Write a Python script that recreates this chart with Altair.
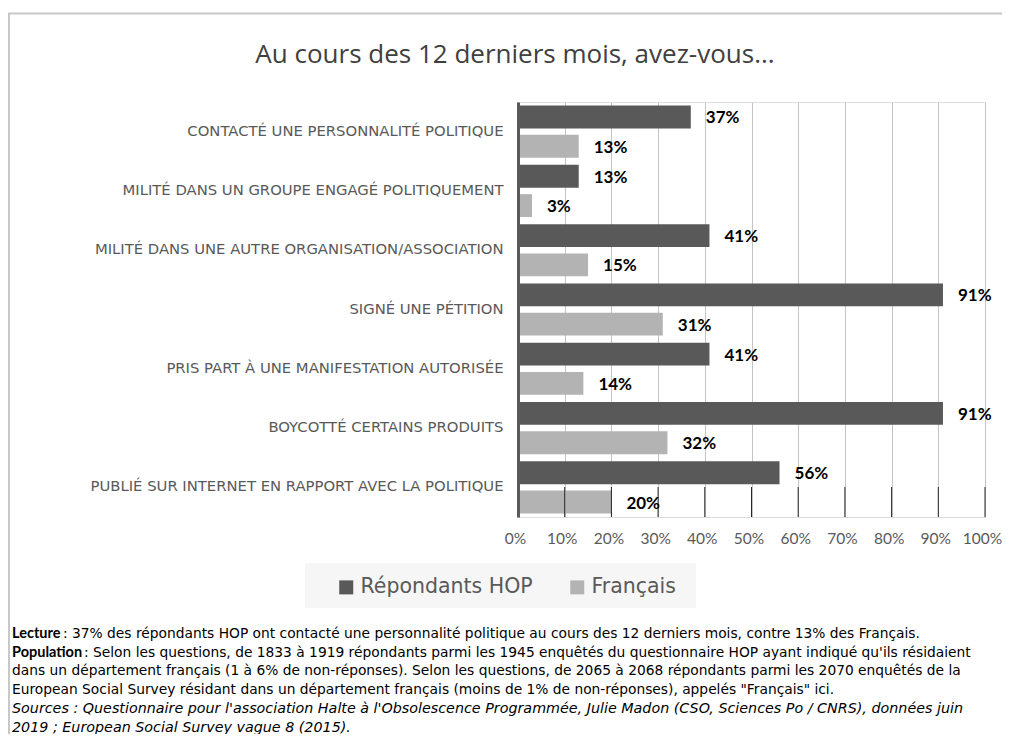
import altair as alt
import pandas as pd

# ---------------- data ----------------
categories = [
    "CONTACTÉ UNE PERSONNALITÉ POLITIQUE",
    "MILITÉ DANS UN GROUPE ENGAGÉ POLITIQUEMENT",
    "MILITÉ DANS UNE AUTRE ORGANISATION/ASSOCIATION",
    "SIGNÉ UNE PÉTITION",
    "PRIS PART À UNE MANIFESTATION AUTORISÉE",
    "BOYCOTTÉ CERTAINS PRODUITS",
    "PUBLIÉ SUR INTERNET EN RAPPORT AVEC LA POLITIQUE",
]
hop_values = [37, 13, 41, 91, 41, 91, 56]
fr_values = [13, 3, 15, 31, 14, 32, 20]
series = ["Répondants HOP", "Français"]
colors = ["#595959", "#b3b3b3"]
x_ticks = [0, 0.1, 0.2, 0.3, 0.4, 0.5, 0.6, 0.7, 0.8, 0.9, 1.0]

title_text = "Au cours des 12 derniers mois, avez-vous..."
note_lines = [
    [("Lecture", "bold", "normal"),
     (" : 37% des répondants HOP ont contacté une personnalité politique au cours des 12 derniers mois, contre 13% des Français.", "normal", "normal")],
    [("Population", "bold", "normal"),
     (" : Selon les questions, de 1833 à 1919 répondants parmi les 1945 enquêtés du questionnaire HOP ayant indiqué qu'ils résidaient", "normal", "normal")],
    [("dans un département français (1 à 6% de non-réponses). Selon les questions, de 2065 à 2068 répondants parmi les 2070 enquêtés de la", "normal", "normal")],
    [("European Social Survey résidant dans un département français (moins de 1% de non-réponses), appelés \"Français\" ici.", "normal", "normal")],
    [("Sources : Questionnaire pour l'association Halte à l'Obsolescence Programmée, Julie Madon (CSO, Sciences Po / CNRS), données juin", "normal", "italic")],
    [("2019 ; European Social Survey vague 8 (2015).", "normal", "italic")],
]
bold_widths = {"Lecture": 51, "Population": 72}

FONT_T = "Open Sans"
FONT = "DejaVu Sans"
FONT2 = "Lato"
W, H = 467, 415

rows = []
for c, h, f in zip(categories, hop_values, fr_values):
    rows.append({"cat": c, "serie": series[0], "val": h / 100, "lab": f"{h}%"})
    rows.append({"cat": c, "serie": series[1], "val": f / 100, "lab": f"{f}%"})
df = pd.DataFrame(rows)

# ---------------- encodings ----------------
y_enc = alt.Y(
    "cat:N", sort=categories,
    scale=alt.Scale(paddingInner=0.12, paddingOuter=0.06),
    axis=alt.Axis(title=None, labelFont=FONT, labelFontSize=14.8, labelColor="#595959",
                  labelPadding=15, ticks=False, domainColor="#595959", domainWidth=3,
                  labelLimit=600, zindex=1),
)
yoff_enc = alt.YOffset("serie:N", sort=series, scale=alt.Scale(paddingInner=0.22))
x_enc = alt.X(
    "val:Q", scale=alt.Scale(domain=[0, 1], nice=False),
    axis=alt.Axis(title=None, format=".0%", values=x_ticks, grid=True, gridColor="#c4c4c4",
                  gridWidth=1, domain=False, ticks=False, labelFont=FONT2, labelFontSize=15.5,
                  labelColor="#595959", labelPadding=14, labelOverlap=False,
                  labelFlush=False, labelOffset=-3),
)

bars = alt.Chart(df).mark_bar().encode(
    x=x_enc, y=y_enc, yOffset=yoff_enc,
    color=alt.Color(
        "serie:N", sort=series, scale=alt.Scale(domain=series, range=colors),
        legend=alt.Legend(title=None, orient="none", legendX=-182, legendY=475,
                          direction="horizontal", symbolType="square", symbolSize=196,
                          symbolStrokeWidth=0, labelFont=FONT, labelFontSize=20.5,
                          labelColor="#595959", columnPadding=34, padding=0, labelOffset=4,
                          labelLimit=400),
    ),
)

labels = alt.Chart(df).mark_text(
    align="left", baseline="middle", dx=15, dy=1.5, font=FONT2, fontSize=17,
    fontWeight="bold", color="#000000",
).encode(x=x_enc, y=y_enc, yOffset=yoff_enc, text="lab:N")

tick_df = pd.DataFrame({"val": x_ticks[1:]})
dark_ticks = alt.Chart(tick_df).mark_rule(color="#262626", strokeWidth=1).encode(
    x=x_enc, y=alt.value(H - 30), y2=alt.value(H)
)

one = pd.DataFrame({"a": [0]})
legend_bg = alt.Chart(one).mark_rect(color="#f6f6f6").encode(
    x=alt.value(305 - 518), x2=alt.value(696 - 518), y=alt.value(563 - 102), y2=alt.value(608 - 102)
)

title = alt.Chart(one).mark_text(
    font=FONT_T, fontSize=26, color="#404040", align="center", baseline="middle"
).encode(x=alt.value(-3), y=alt.value(-47), text=alt.value(title_text))

border_top = alt.Chart(one).mark_rule(color="#c8c8c8", strokeWidth=2).encode(
    x=alt.value(-510), x2=alt.value(W + 17), y=alt.value(-88.5)
)
border_left = alt.Chart(one).mark_rule(color="#c8c8c8", strokeWidth=2).encode(
    x=alt.value(-509), y=alt.value(-88.5), y2=alt.value(H + 217)
)

# notes
y0 = 532
line_h = 18.7
note_layers = []
for i, line in enumerate(note_lines):
    xpos = -506
    for txt, weight, style in line:
        is_bold = weight == "bold"
        if is_bold:
            fnt, fs = FONT2, 14.5
        elif style == "italic":
            fnt, fs = FONT, 14.3
        else:
            fnt, fs = FONT, 13.8
        note_layers.append(
            alt.Chart(one).mark_text(
                font=fnt, fontSize=fs, color="#000000", align="left", baseline="middle",
                fontWeight=weight, fontStyle=style,
            ).encode(x=alt.value(xpos), y=alt.value(y0 + i * line_h), text=alt.value(txt))
        )
        if is_bold:
            xpos += bold_widths[txt]

chart = alt.layer(
    legend_bg, bars, dark_ticks, labels, title, border_top, border_left, *note_layers
).properties(
    width=W, height=H,
    autosize=alt.AutoSizeParams(type="none"),
    padding={"left": 510, "top": 94, "right": 17, "bottom": 217},
).configure_view(stroke=None).configure(background="white")

chart.save("out.html", embed_options={"renderer": "svg", "actions": False})
